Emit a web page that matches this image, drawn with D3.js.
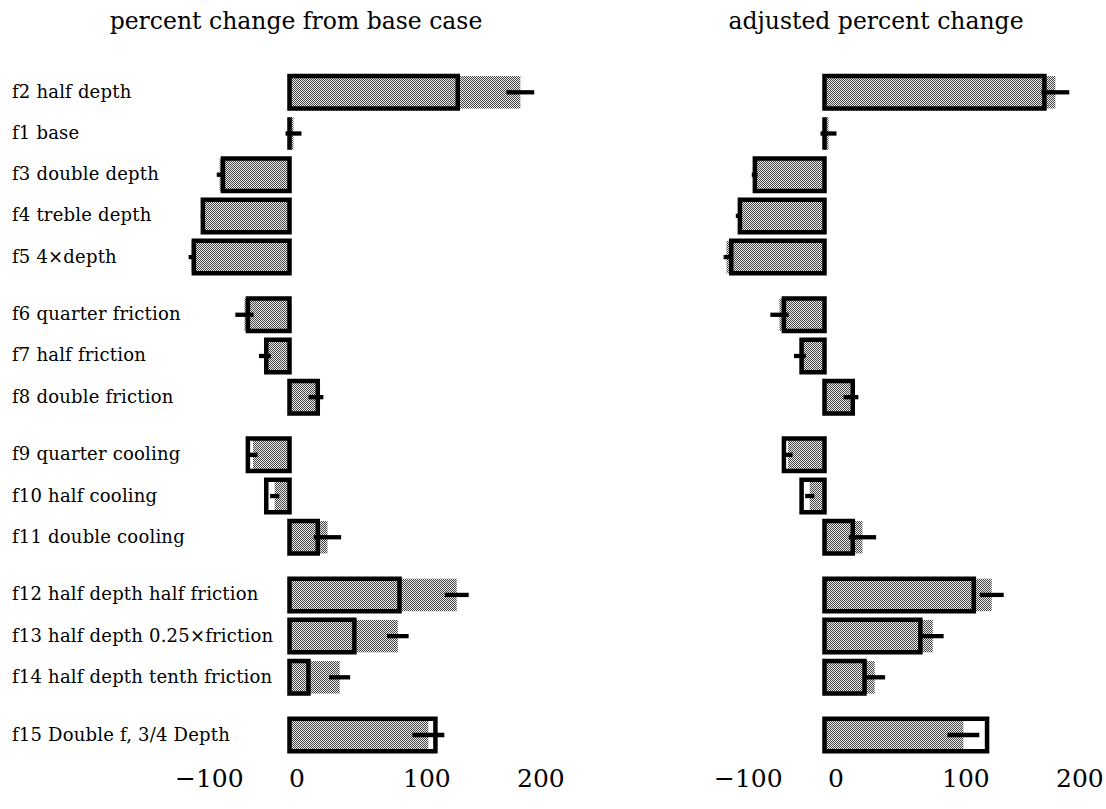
<!DOCTYPE html>
<html>
<head>
<meta charset="utf-8">
<script src="https://cdn.jsdelivr.net/npm/d3@7"></script>
<style>
  html, body { margin: 0; padding: 0; background: #fff; }
  svg { display: block; }
</style>
</head>
<body>
<svg id="chart" width="1106" height="809"></svg>
<script>
// ---- data ----
const categories = [
  "f2 half depth", "f1 base", "f3 double depth", "f4 treble depth", "f5 4×depth",
  "f6 quarter friction", "f7 half friction", "f8 double friction",
  "f9 quarter cooling", "f10 half cooling", "f11 double cooling",
  "f12 half depth half friction", "f13 half depth 0.25×friction", "f14 half depth tenth friction",
  "f15 Double f, 3/4 Depth"
];
const groups = [0, 0, 0, 0, 0, 1, 1, 1, 2, 2, 2, 3, 3, 3, 4];

const panelTitles = ["percent change from base case", "adjusted percent change"];
const tickValues = [-100, 0, 100, 200];

// gray (shaded) bars and their error half-widths, shown in both panels
const shadedValue = [202.5, 3.5, -61.3, -76, -86, -39.5, -21.6, 23.2, -32, -13, 33.3, 146.7, 95, 44, 121.8];
const shadedError = [12.2, 7, 2.5, 1.8, 2.5, 8, 5.2, 6.5, 4, 4, 12, 10.5, 9.5, 9.2, 14];

// outlined boxes
const leftBox  = [147.6, 0, -58.4, -76, -83.9, -36.5, -20.4, 24.8, -36.5, -20.4, 24.8, 96.5, 56.9, 16.6, 128];
const rightBox = [192.9, 0, -61.1, -74.2, -81.8, -35.6, -20.1, 24.8, -35.6, -20.1, 24.8, 130.9, 84.1, 35.1, 142.6];

// ---- drawing ----
const svg = d3.select("#chart");
const FONT = "'DejaVu Serif', 'Liberation Serif', serif";

// dithered gray pattern
const defs = svg.append("defs");
const pat = defs.append("pattern")
  .attr("id", "dither").attr("patternUnits", "userSpaceOnUse")
  .attr("width", 2).attr("height", 2);
pat.append("rect").attr("width", 2).attr("height", 2).attr("fill", "#ededed");
pat.append("rect").attr("x", 0).attr("y", 0).attr("width", 1).attr("height", 1).attr("fill", "#444");
pat.append("rect").attr("x", 1).attr("y", 1).attr("width", 1).attr("height", 1).attr("fill", "#444");

const slots = categories.map((c, i) => i + 0.4 * groups[i]);
const y = d3.scaleLinear().domain([0, d3.max(slots)]).range([92.3, 735]);
const barH = 32.5;

const rows = categories.map((c, i) => ({
  name: c, slot: slots[i],
  gray: shadedValue[i], err: shadedError[i],
  lBox: leftBox[i], rBox: rightBox[i]
}));

// row labels
svg.append("g").selectAll("text").data(rows).join("text")
  .attr("x", 12)
  .attr("y", d => y(d.slot) + 5.5)
  .attr("font-family", FONT)
  .attr("font-size", 18)
  .attr("letter-spacing", 0.2)
  .attr("fill", "#000")
  .text(d => d.name);

const panels = [
  { x: d3.scaleLinear().domain([-100, 200]).range([175.5, 517.5]), box: "lBox", title: panelTitles[0], titleX: 296, dx: -1 },
  { x: d3.scaleLinear().domain([-100, 200]).range([710.5, 1052.5]), box: "rBox", title: panelTitles[1], titleX: 876, dx: 3 }
];

panels.forEach(p => {
  const g = svg.append("g");
  const x = p.x;

  // title
  g.append("text")
    .attr("x", p.titleX).attr("y", 29)
    .attr("text-anchor", "middle")
    .attr("font-family", FONT).attr("font-size", 23.5)
    .attr("fill", "#000")
    .text(p.title);

  // gray bars
  g.append("g").selectAll("rect").data(rows).join("rect")
    .attr("x", d => Math.min(x(0), x(d.gray)))
    .attr("width", d => Math.abs(x(d.gray) - x(0)))
    .attr("y", d => y(d.slot) - barH / 2)
    .attr("height", barH)
    .attr("fill", "url(#dither)");

  // outlined boxes
  g.append("g").selectAll("path").data(rows).join("path")
    .attr("d", d => {
      const x0 = x(0), x1 = x(d[p.box]);
      const y0 = y(d.slot) - barH / 2, y1 = y(d.slot) + barH / 2;
      return `M${x0},${y0}H${x1}V${y1}H${x0}Z`;
    })
    .attr("fill", "none")
    .attr("stroke", "#000")
    .attr("stroke-width", 4.5)
    .attr("stroke-linejoin", "miter");

  // error bars
  g.append("g").selectAll("line").data(rows).join("line")
    .attr("x1", d => x(d.gray - d.err))
    .attr("x2", d => x(d.gray + d.err))
    .attr("y1", d => y(d.slot))
    .attr("y2", d => y(d.slot))
    .attr("stroke", "#000")
    .attr("stroke-width", 4.3);

  // axis
  const axis = d3.axisBottom(x).tickValues(tickValues).tickSize(0).tickPadding(0);
  const ag = g.append("g").attr("transform", "translate(0,787)").call(axis);
  ag.select(".domain").remove();
  ag.selectAll("text")
    .attr("font-family", FONT).attr("font-size", 25)
    .attr("fill", "#000")
    .attr("text-anchor", "start")
    .attr("dx", p.dx)
    .attr("dy", 0)
    .attr("y", 0);
});
</script>
</body>
</html>
